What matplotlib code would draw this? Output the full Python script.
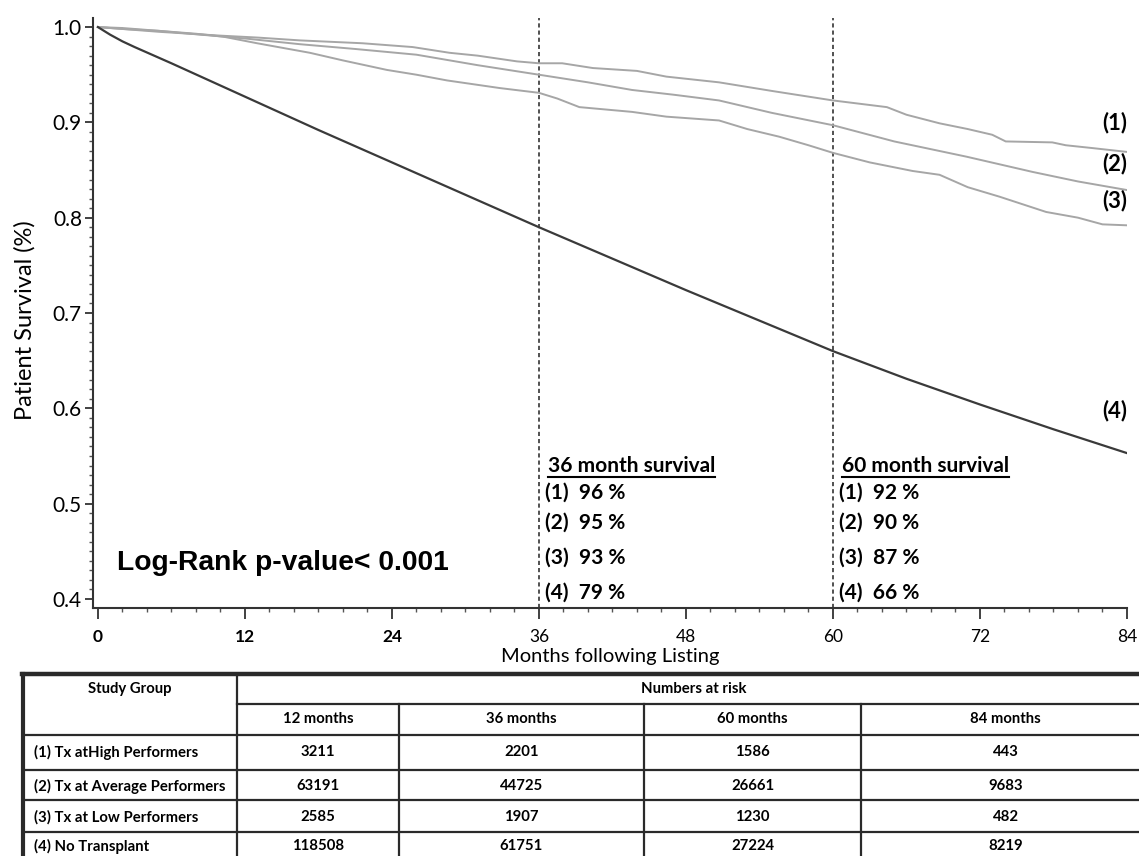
import matplotlib
matplotlib.use('Agg')
import matplotlib.pyplot as plt
from matplotlib.lines import Line2D
from matplotlib.ticker import MultipleLocator
import matplotlib.transforms as mtransforms

# --- Kaplan-Meier estimates (months, survival) ---
months_1 = [0, 2, 5, 7.5, 10, 13, 16.5, 21.6, 25.7, 28.7, 31, 34.2, 36, 37.9, 40.4, 44, 46.4,
            50.7, 55, 60, 64.4, 66, 68.7, 71, 73, 74.1, 77.9, 79, 81.2, 84]
surv_1 = [1.0, 0.999, 0.996, 0.993, 0.991, 0.989, 0.986, 0.983, 0.979, 0.973, 0.970, 0.964, 0.962,
          0.962, 0.957, 0.954, 0.948, 0.942, 0.933, 0.923, 0.916, 0.908, 0.899, 0.893, 0.887,
          0.880, 0.879, 0.876, 0.873, 0.869]

months_2 = [0, 2, 5, 7.5, 12, 16.5, 21, 26, 31, 36, 40, 43.6, 47, 50.7, 55, 60, 65, 70.9, 76.3, 80, 84]
surv_2 = [1.0, 0.998, 0.995, 0.993, 0.988, 0.982, 0.977, 0.971, 0.960, 0.950, 0.942, 0.934, 0.929,
          0.923, 0.910, 0.897, 0.880, 0.864, 0.848, 0.838, 0.829]

months_3 = [0, 2, 5, 8, 10.2, 13, 17.3, 20, 23.6, 26, 28.5, 32.8, 36, 37.5, 39.3, 43.6, 46.4, 50.7,
            53, 55.6, 58, 60, 63, 66.5, 68.7, 71, 73.6, 75.5, 77.4, 80, 82, 84]
surv_3 = [1.0, 0.998, 0.996, 0.993, 0.990, 0.983, 0.973, 0.965, 0.955, 0.950, 0.944, 0.936, 0.931,
          0.925, 0.916, 0.911, 0.906, 0.902, 0.893, 0.885, 0.876, 0.868, 0.858, 0.849, 0.845,
          0.832, 0.822, 0.814, 0.806, 0.800, 0.793, 0.792]

months_4 = [0, 0.5, 1, 2, 3, 6, 12, 18, 24, 30, 36, 42, 48, 54, 60, 66, 72, 78, 84]
surv_4 = [1.0, 0.996, 0.992, 0.985, 0.979, 0.962, 0.927, 0.892, 0.858, 0.824, 0.790, 0.757, 0.724,
          0.692, 0.660, 0.631, 0.604, 0.578, 0.553]

curve_labels = ['(1)', '(2)', '(3)', '(4)']

# survival read at the two landmarks
landmarks = [36, 60]
surv_at_36 = [96, 95, 93, 79]
surv_at_60 = [92, 90, 87, 66]

# numbers at risk table
study_groups = ['(1) Tx atHigh Performers', '(2) Tx at Average Performers',
                '(3) Tx at Low Performers', '(4) No Transplant']
risk_headers = ['12 months', '36 months', '60 months', '84 months']
at_risk = [
    [3211, 2201, 1586, 443],
    [63191, 44725, 26661, 9683],
    [2585, 1907, 1230, 482],
    [118508, 61751, 27224, 8219],
]

plt.rcParams['font.family'] = ['Lato', 'DejaVu Sans']

W, H = 1139, 856
fig = plt.figure(figsize=(W / 100, H / 100), dpi=100)
ax = fig.add_axes([93 / W, 1 - 608 / H, 1034 / W, 590 / H])

light = '#a6a6a6'
dark = '#3a3a3a'
ax.plot(months_1, surv_1, color=light, lw=1.4)
ax.plot(months_2, surv_2, color=light, lw=1.4)
ax.plot(months_3, surv_3, color=light, lw=1.4)
ax.plot(months_4, surv_4, color=dark, lw=1.6)

ax.set_xlim(-0.4, 84)
ax.set_ylim(0.3905, 1.0095)

for lm in landmarks:
    ax.axvline(lm, color='#333333', lw=1.2, ls=(0, (2.5, 1.8)), zorder=0)

# axis styling
for side in ['top', 'right']:
    ax.spines[side].set_visible(False)
for side in ['left', 'bottom']:
    ax.spines[side].set_color('#333333')
    ax.spines[side].set_linewidth(1.5)

ax.set_xticks([0, 12, 24, 36, 48, 60, 72, 84])
ax.set_yticks([0.4, 0.5, 0.6, 0.7, 0.8, 0.9, 1.0])
ax.set_yticklabels(['0.4', '0.5', '0.6', '0.7', '0.8', '0.9', '1.0'])
ax.xaxis.set_minor_locator(MultipleLocator(2))
ax.yaxis.set_minor_locator(MultipleLocator(0.01))
ax.tick_params(axis='x', which='major', length=8, width=1.3, color='#333333', pad=7, labelsize=12.5)
ax.tick_params(axis='y', which='major', length=6, width=1.3, color='#333333', pad=2, labelsize=15)
ax.tick_params(which='minor', length=3, width=1.0, color='#555555')
for lab in ax.get_xticklabels()[:3]:
    lab.set_fontweight('bold')

ax.set_xlabel('Months following Listing', fontsize=14.5, labelpad=2)
fig.text(25 / W, 1 - 320 / H, 'Patient Survival (%)', rotation=90, ha='center', va='center',
         fontsize=17)

# curve labels at the right end
label_y = [0.900, 0.857, 0.818, 0.598]
for lab, ly in zip(curve_labels, label_y):
    ax.text(84, ly, lab, ha='right', va='center', fontsize=16, fontweight='bold')

# landmark survival summaries
row_y = [0.512, 0.480, 0.443, 0.407]
headings = []
for lm, vals in zip(landmarks, [surv_at_36, surv_at_60]):
    off = mtransforms.offset_copy(ax.transData, fig=fig, x=6, y=0, units='dots')
    h = ax.text(lm, 0.540, f'{lm} month survival', transform=mtransforms.offset_copy(
        ax.transData, fig=fig, x=9, y=0, units='dots'),
        ha='left', va='center', fontsize=15, fontweight='bold')
    headings.append(h)
    for lab, v, ry in zip(curve_labels, vals, row_y):
        ax.text(lm, ry, f'{lab}  {v} %', transform=off, ha='left', va='center',
                fontsize=15, fontweight='bold')

ax.text(1.55, 0.4376, 'Log-Rank p-value< 0.001', ha='left', va='center', fontsize=20.3,
        fontweight='bold', family=['Liberation Sans', 'DejaVu Sans'])

# --- numbers at risk table, drawn in pixel space ---
tab = fig.add_axes([0, 0, 1, 1], zorder=-1)
tab.set_xlim(0, W)
tab.set_ylim(H, 0)
tab.axis('off')

col_x = [23, 237, 399, 644, 861, 1150]
row_edges = [674, 704, 735, 770, 800, 832, 866]
line_c = '#2a2a2a'

tab.plot([col_x[0] - 1, W], [row_edges[0], row_edges[0]], color=line_c, lw=3.2)
tab.plot([col_x[0], col_x[0]], [row_edges[0], H], color=line_c, lw=3.0)
tab.plot([col_x[1], W], [row_edges[1], row_edges[1]], color=line_c, lw=1.6)
tab.plot([col_x[1], col_x[1]], [row_edges[0], H], color=line_c, lw=1.6)
for cx in col_x[2:-1]:
    tab.plot([cx, cx], [row_edges[1], H], color=line_c, lw=1.6)
for ry in row_edges[2:-1]:
    tab.plot([col_x[0], W], [ry, ry], color=line_c, lw=1.6)

tfs = 10.7
tab.text((col_x[0] + col_x[1]) / 2, 689, 'Study Group', ha='center', va='center',
         fontsize=tfs, fontweight='bold')
tab.text((col_x[1] + col_x[-1]) / 2, 689, 'Numbers at risk', ha='center', va='center',
         fontsize=tfs, fontweight='bold')
for j, hdr in enumerate(risk_headers):
    tab.text((col_x[j + 1] + col_x[j + 2]) / 2, 719, hdr, ha='center', va='center',
             fontsize=tfs, fontweight='bold')
text_rows = [752, 786, 817, 846]
for i, grp in enumerate(study_groups):
    tab.text(34, text_rows[i], grp, ha='left', va='center', fontsize=tfs, fontweight='bold')
    for j, n in enumerate(at_risk[i]):
        tab.text((col_x[j + 1] + col_x[j + 2]) / 2, text_rows[i], str(n), ha='center',
                 va='center', fontsize=tfs, fontweight='bold')

# underline the landmark headings
fig.canvas.draw()
renderer = fig.canvas.get_renderer()
for h in headings:
    bb = h.get_window_extent(renderer)
    fig.add_artist(Line2D([bb.x0, bb.x1], [bb.y0 - 1, bb.y0 - 1], color='black', lw=1.5,
                          transform=mtransforms.IdentityTransform()))

fig.savefig('out.png', dpi=100)
